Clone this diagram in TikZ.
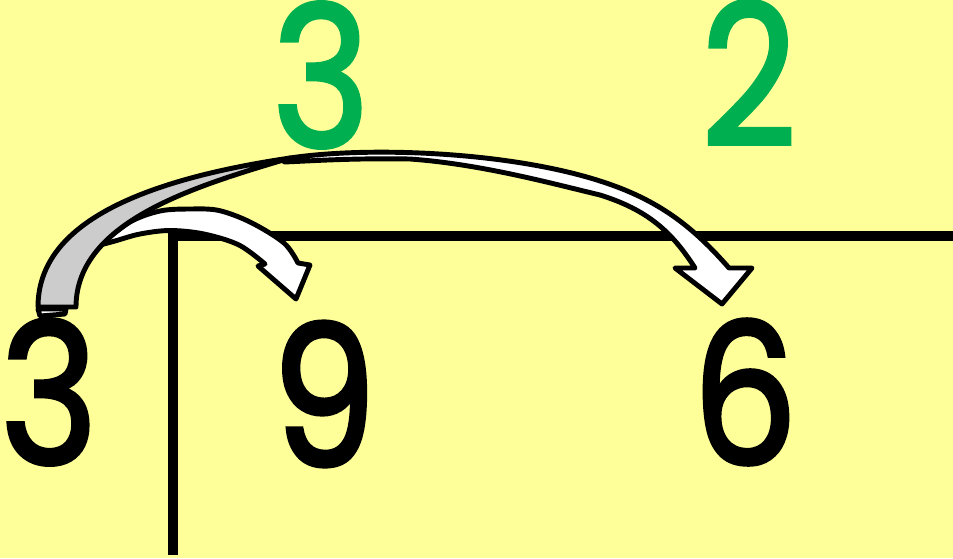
\documentclass[tikz,border=0pt]{standalone}
\usepackage{fontspec}
\setmainfont{Poppins}[FakeStretch=0.84, FakeBold=2]
\usepackage{tikz}
\usetikzlibrary{positioning}
\definecolor{dcPaper}{RGB}{255,255,153}
\definecolor{dcGreen}{RGB}{0,176,80}
\definecolor{dcUnder}{RGB}{204,204,204}

\begin{document}
\begin{tikzpicture}[x=0.02cm, y=-0.02cm,
  digit/.style={inner sep=0pt, font=\fontsize{112}{112}\selectfont},
  quot/.style={digit, text=dcGreen},
  bar/.style={line width=6.2pt},
  ribbon/.style={draw, line width=2.8pt, line join=round}]
  \useasboundingbox (0,0) rectangle (953,558);
  \fill[dcPaper] (0,0) rectangle (953,558);
  \node[digit] (dvs) at (49,392) {3};
  \node[digit] (nine) at (324,394) {9};
  \node[digit] (six) at (745,392) {6};
  \node[quot] (qa) at (321,75) {3};
  \node[quot] (qb) at (749,73) {2};
  \draw[bar] (173,555) -- (173,236) -- (953,236);
  \filldraw[ribbon, fill=white] plot[smooth, tension=0.55] coordinates {(100,245) (130,222) (160,211) (190,209) (219,210.5) (251,222.5) (284,243) (298,263)}
    -- (310,265) -- (296,299) -- (258,266)
    -- plot[smooth, tension=0.55] coordinates {(265,264) (239,245) (204,234) (170,230.5) (140,234) (115,241) (100,245)} -- cycle;
  \filldraw[ribbon, fill=white] (290,158) .. controls (370,146) and (510,152) .. (600,181)
    .. controls (660,200) and (694,228) .. (729,268) -- (752,268) -- (722,304) -- (675,268) -- (695,268)
    .. controls (672,232) and (648,210) .. (600,195) .. controls (550,183) and (480,164) .. (410,159)
    .. controls (350,158) and (310,161) .. (284,162) -- cycle;
  \filldraw[ribbon, fill=white] (38,309) -- (66,309) -- (65,314) -- (40,316) -- cycle;
  \filldraw[ribbon, fill=dcUnder] (38,307) .. controls (38,238) and (108,185) .. (290,158)
    .. controls (200,185) and (76,220) .. (76,307) -- cycle;
\end{tikzpicture}
\end{document}
